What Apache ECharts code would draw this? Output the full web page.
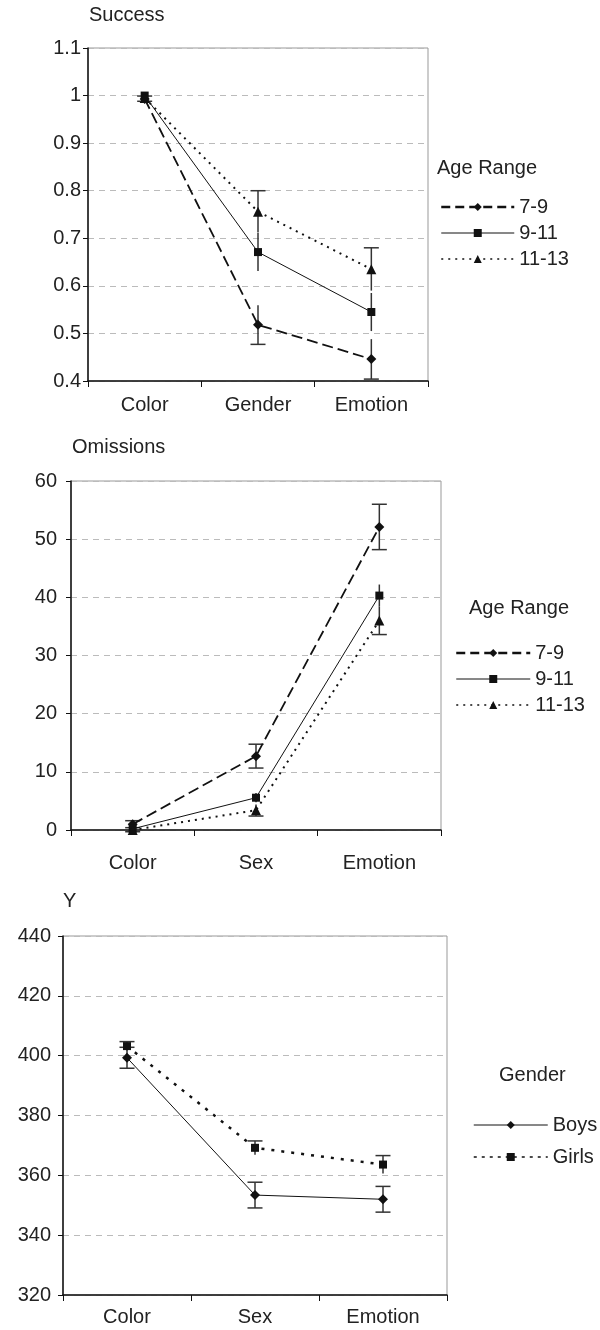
<!DOCTYPE html>
<html>
<head>
<meta charset="utf-8">
<script src="https://cdn.jsdelivr.net/npm/echarts@6/dist/echarts.min.js"></script>
<style>
  body { margin: 0; background: #fff; }
  .c { position: absolute; left: 0; width: 600px; }
</style>
</head>
<body>
<div id="c1" class="c" style="top:0;height:430px"></div>
<div id="c2" class="c" style="top:430px;height:450px"></div>
<div id="c3" class="c" style="top:880px;height:450px"></div>
<script>
// ---- data: Success
const cats1 = ['Color', 'Gender', 'Emotion'];
const succ79 = [0.993, 0.518, 0.446];
const succ79Err = [0.005, 0.041, 0.042];
const succ911 = [1.0, 0.671, 0.545];
const succ911Err = [0.004, 0.04, 0.04];
const succ1113 = [0.995, 0.756, 0.635];
const succ1113Err = [0.004, 0.044, 0.045];

// ---- data: Omissions
const cats2 = ['Color', 'Sex', 'Emotion'];
const om79 = [1.0, 12.7, 52.1];
const om79Err = [0.6, 2.05, 3.9];
const om911 = [0.2, 5.55, 40.3];
const om911Err = [0.3, 0.8, 1.9];
const om1113 = [0, 3.4, 36.0];
const om1113Err = [0.3, 1.0, 2.4];

// ---- data: Y (reaction)
const cats3 = ['Color', 'Sex', 'Emotion'];
const yBoys = [399.3, 353.4, 352.0];
const yBoysErr = [3.5, 4.3, 4.3];
const yGirls = [403.2, 369.2, 363.6];
const yGirlsErr = [1.5, 2.3, 3.0];

const FONT = '"Liberation Sans", Arial, sans-serif';
const INK = '#111';

// styles per group
const dash79 = { color: INK, width: 1.8, type: [11, 5] };
const solid = { color: INK, width: 1 };
const dot1113 = { color: INK, width: 2, type: [2, 5] };
const dotGirls = { color: INK, width: 2.5, type: [3, 7] };

function errRender(capTop, capBot) {
  return function (params, api) {
    const x = api.value(0);
    const lo = api.coord([x, api.value(1)]);
    const hi = api.coord([x, api.value(2)]);
    const st = { stroke: '#333', lineWidth: 1.5 };
    const half = 7.5;
    const ch = [{ type: 'line', shape: { x1: lo[0], y1: lo[1], x2: hi[0], y2: hi[1] }, style: st }];
    if (capTop) ch.push({ type: 'line', shape: { x1: hi[0] - half, y1: hi[1], x2: hi[0] + half, y2: hi[1] }, style: st });
    if (capBot) ch.push({ type: 'line', shape: { x1: lo[0] - half, y1: lo[1], x2: lo[0] + half, y2: lo[1] }, style: st });
    return { type: 'group', children: ch };
  };
}

function errSeries(means, errs, capTop, capBot) {
  return {
    type: 'custom',
    renderItem: errRender(capTop, capBot),
    encode: { x: 0, y: [1, 2] },
    data: means.map((m, i) => [i, m - errs[i], m + errs[i]]),
    z: 2,
    silent: true
  };
}

function lineSeries(name, data, symbol, size, lineStyle) {
  return {
    name: name,
    type: 'line',
    data: data,
    symbol: symbol,
    symbolSize: size,
    showSymbol: true,
    lineStyle: lineStyle,
    itemStyle: { color: INK },
    z: 3
  };
}

function makeChart(id, c) {
  const chart = echarts.init(document.getElementById(id));
  chart.setOption({
    animation: false,
    textStyle: { fontFamily: FONT },
    title: [
      { text: c.title, left: c.titleLeft, top: c.titleTop, padding: 0,
        textStyle: { fontSize: 20, fontWeight: 'normal', color: '#222', fontFamily: FONT } },
      { text: c.legTitle, left: c.legTitleLeft, top: c.legTitleTop, padding: 0,
        textStyle: { fontSize: 20, fontWeight: 'normal', color: '#222', fontFamily: FONT } }
    ],
    legend: {
      orient: 'vertical',
      left: c.legLeft,
      top: c.legTop,
      padding: 0,
      itemWidth: c.legWidth,
      itemHeight: 10,
      itemGap: c.legGap,
      textStyle: { fontSize: 20, color: '#222', lineHeight: 20, fontFamily: FONT },
      data: c.legData
    },
    grid: {
      left: c.grid[0], top: c.grid[1], width: c.grid[2], height: c.grid[3],
      show: true, borderColor: '#999', borderWidth: 1
    },
    xAxis: {
      type: 'category',
      data: c.cats,
      boundaryGap: true,
      axisLine: { lineStyle: { color: INK, width: 1.5 } },
      axisTick: { show: true, length: 6, lineStyle: { color: INK } },
      axisLabel: { fontSize: 20, color: '#222', margin: c.xMargin, fontFamily: FONT },
      splitLine: { show: false }
    },
    yAxis: {
      type: 'value',
      min: c.yMin, max: c.yMax, interval: c.yStep,
      axisLine: { show: true, lineStyle: { color: INK, width: 1.5 } },
      axisTick: { show: true, length: 5, lineStyle: { color: INK } },
      axisLabel: { fontSize: 20, color: '#222', margin: c.yMargin, fontFamily: FONT },
      splitLine: { show: true, lineStyle: { color: '#bbb', type: [6, 5] } }
    },
    series: c.series
  });
  window.addEventListener('resize', function () { chart.resize(); });
}

makeChart('c1', {
  title: 'Success', titleLeft: 89, titleTop: 5,
  legTitle: 'Age Range', legTitleLeft: 437, legTitleTop: 158,
  legLeft: 440, legTop: 197, legWidth: 73, legGap: 6,
  legData: [
    { name: '7-9', lineStyle: { width: 2.5, type: [9, 5] } },
    { name: '9-11', lineStyle: { width: 1, type: 'solid' } },
    { name: '11-13', lineStyle: { width: 1.5, type: [2, 5] } }
  ],
  grid: [88, 48, 340, 333],
  cats: cats1, xMargin: 14, yMargin: 7,
  yMin: 0.4, yMax: 1.1, yStep: 0.1,
  series: [
    errSeries(succ79, succ79Err, false, true),
    errSeries(succ911, succ911Err, false, false),
    errSeries(succ1113, succ1113Err, true, false),
    lineSeries('7-9', succ79, 'diamond', 10, dash79),
    lineSeries('9-11', succ911, 'rect', 8, solid),
    lineSeries('11-13', succ1113, 'triangle', 10, dot1113)
  ]
});

makeChart('c2', {
  title: 'Omissions', titleLeft: 72, titleTop: 7,
  legTitle: 'Age Range', legTitleLeft: 469, legTitleTop: 168,
  legLeft: 455, legTop: 213, legWidth: 74, legGap: 6,
  legData: [
    { name: '7-9', lineStyle: { width: 2.5, type: [9, 5] } },
    { name: '9-11', lineStyle: { width: 1, type: 'solid' } },
    { name: '11-13', lineStyle: { width: 1.5, type: [2, 5] } }
  ],
  grid: [71, 51, 370, 349],
  cats: cats2, xMargin: 23, yMargin: 14,
  yMin: 0, yMax: 60, yStep: 10,
  series: [
    errSeries(om79, om79Err, true, true),
    errSeries(om911, om911Err, false, false),
    errSeries(om1113, om1113Err, false, true),
    lineSeries('7-9', om79, 'diamond', 10, dash79),
    lineSeries('9-11', om911, 'rect', 8, solid),
    lineSeries('11-13', om1113, 'triangle', 10, dot1113)
  ]
});

makeChart('c3', {
  title: 'Y', titleLeft: 63, titleTop: 11,
  legTitle: 'Gender', legTitleLeft: 499, legTitleTop: 185,
  legLeft: 473, legTop: 235, legWidth: 74, legGap: 12,
  legData: [
    { name: 'Boys', lineStyle: { width: 1, type: 'solid' } },
    { name: 'Girls', lineStyle: { width: 1.5, type: [3, 5] } }
  ],
  grid: [63, 56, 384, 359],
  cats: cats3, xMargin: 12, yMargin: 12,
  yMin: 320, yMax: 440, yStep: 20,
  series: [
    errSeries(yBoys, yBoysErr, true, true),
    errSeries(yGirls, yGirlsErr, true, false),
    lineSeries('Boys', yBoys, 'diamond', 10, solid),
    lineSeries('Girls', yGirls, 'rect', 8, dotGirls)
  ]
});
</script>
</body>
</html>
